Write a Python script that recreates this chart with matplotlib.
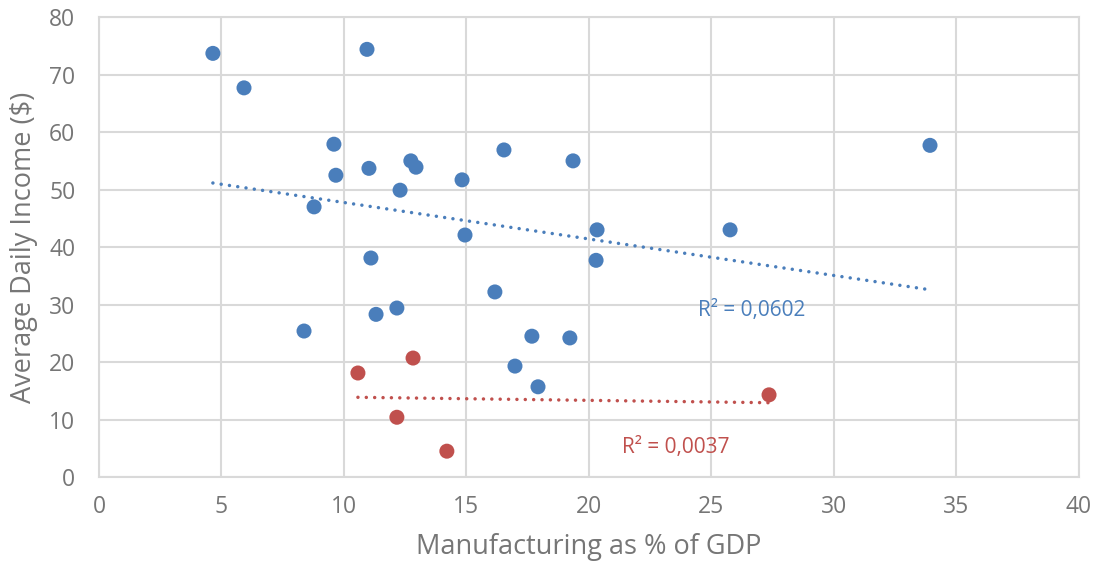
import numpy as np
import matplotlib.pyplot as plt

plt.rcParams['font.family'] = ['Open Sans', 'DejaVu Sans']

# manufacturing share (% of GDP) vs average daily income ($)
blue_x = [4.65, 5.92, 10.94, 9.59, 9.67, 11.02, 12.73, 12.94, 12.29, 8.78,
          14.82, 16.53, 19.35, 14.94, 11.10, 20.33, 20.29, 25.76, 33.92, 16.16,
          8.37, 11.31, 12.16, 17.67, 19.22, 16.98, 17.92]
blue_y = [73.7, 67.7, 74.4, 57.9, 52.5, 53.7, 55.0, 53.9, 49.9, 47.0,
          51.7, 56.9, 55.0, 42.1, 38.1, 43.0, 37.7, 43.0, 57.7, 32.2,
          25.4, 28.3, 29.4, 24.5, 24.2, 19.3, 15.7]
red_x = [10.57, 12.82, 12.16, 14.20, 27.35]
red_y = [18.1, 20.7, 10.4, 4.5, 14.3]

blue_r2 = "R² = 0,0602"
red_r2 = "R² = 0,0037"

BLUE = '#4a7ebb'
RED = '#c0504d'
GRID = '#d9d9d9'
TEXT = '#767676'

fig = plt.figure(figsize=(11.02, 5.72), dpi=100)
ax = fig.add_axes([0.0898, 0.166, 0.8893, 0.804])

def trend(x, y, color):
    x = np.asarray(x)
    k, b = np.polyfit(x, y, 1)
    xs = np.array([x.min(), x.max()])
    ax.plot(xs, k * xs + b, color=color, lw=2.5,
            linestyle=(0, (0.01, 2.4)), dash_capstyle='round', zorder=2)

trend(blue_x, blue_y, BLUE)
trend(red_x, red_y, RED)

ax.scatter(blue_x, blue_y, s=117, color=BLUE, edgecolors='none', zorder=3)
ax.scatter(red_x, red_y, s=117, color=RED, edgecolors='none', zorder=3)

ax.text(26.65, 28.9, blue_r2, color=BLUE, fontsize=15, ha='center', va='center')
ax.text(23.55, 5.2, red_r2, color=RED, fontsize=15, ha='center', va='center')

ax.set_xlim(0, 40)
ax.set_ylim(0, 80)
ax.set_xticks(np.arange(0, 41, 5))
ax.set_yticks(np.arange(0, 81, 10))
ax.grid(True, color=GRID, lw=1.5, zorder=0)
ax.set_axisbelow(True)
for s in ax.spines.values():
    s.set_color(GRID)
    s.set_linewidth(1.5)
ax.tick_params(length=0, labelsize=16.5, colors=TEXT)
ax.tick_params(axis='x', pad=13)
ax.tick_params(axis='y', pad=17)

ax.set_xlabel('Manufacturing as % of GDP', fontsize=19.5, color=TEXT, labelpad=10)
ax.set_ylabel('Average Daily Income ($)', fontsize=19.5, color=TEXT, labelpad=8)

fig.savefig('out.png', dpi=100)
